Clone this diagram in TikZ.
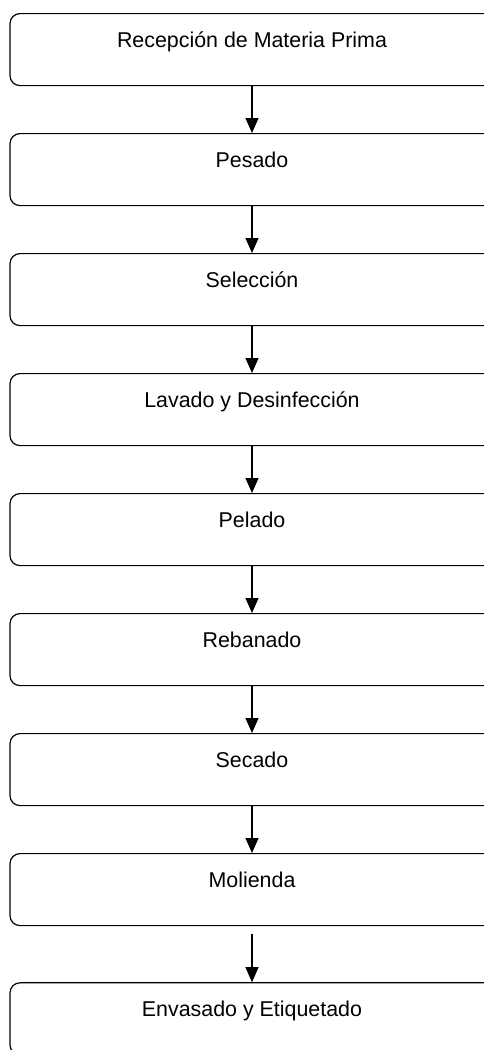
\documentclass[tikz,border=0pt]{standalone}
\usepackage{fontspec}
\setmainfont{Liberation Sans}
\usetikzlibrary{positioning,arrows.meta}
\begin{document}
\begin{tikzpicture}
[   x=1pt,y=-1pt,
    stepbox/.style={draw=black,line width=1.2pt,rounded corners=10pt,
        minimum width=484pt,inner xsep=0pt,inner ysep=0pt,
        text height=34pt,text depth=38pt,font=\fontsize{21.4}{25}\selectfont},
    flow/.style={-{Triangle[length=15pt,width=13pt]},line width=1.2pt},
    node distance=46.8pt,
]
    \useasboundingbox (0,0) rectangle (484,1050);
    \node[stepbox,anchor=north] (recep) at (252,13) {Recepción de Materia Prima};
    \node[stepbox,below=of recep] (pesado) {Pesado};
    \node[stepbox,below=of pesado] (selec) {Selección};
    \node[stepbox,below=of selec] (lavado) {Lavado y Desinfección};
    \node[stepbox,below=of lavado] (pelado) {Pelado};
    \node[stepbox,below=of pelado] (rebanado) {Rebanado};
    \node[stepbox,below=of rebanado] (secado) {Secado};
    \node[stepbox,below=of secado] (molienda) {Molienda};
    \node[stepbox,below=56pt of molienda] (envasado) {Envasado y Etiquetado};
    \coordinate (molgap) at ([yshift=-8pt]molienda.south);
    \foreach \a/\b in {recep/pesado,pesado/selec,selec/lavado,lavado/pelado,
        pelado/rebanado,rebanado/secado,secado/molienda}
    {   \draw[flow] (\a) -- (\b);
    }
    \draw[flow] (molgap) -- (envasado);
\end{tikzpicture}
\end{document}
